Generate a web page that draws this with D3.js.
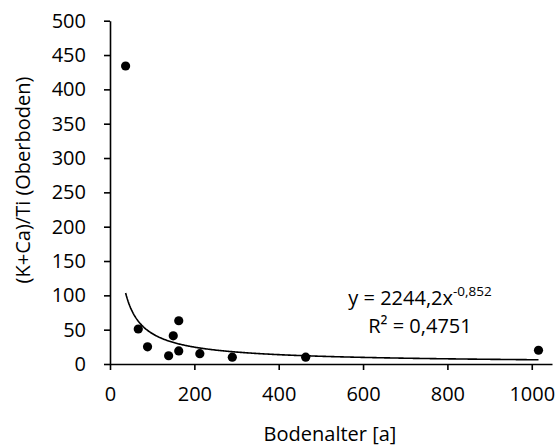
<!DOCTYPE html>
<html>
<head>
	<meta charset="utf-8">
	<title>Bodenalter</title>
	<script src="https://cdnjs.cloudflare.com/ajax/libs/d3/7.8.5/d3.min.js"></script>
	<style>
		body { margin: 0; background: #fff; }
		text { font-family: "Open Sans", "Noto Sans", sans-serif; fill: #000; }
	</style>
</head>
<body>
	<script>
		// soil age [a] and (K+Ca)/Ti ratio in the topsoil
		var ages   = [37, 67, 89, 139, 150, 163, 163, 213, 290, 464, 1016];
		var ratios = [434, 51, 25, 12, 41, 63, 19, 15, 10, 10, 20];

		var xTicks = [0, 200, 400, 600, 800, 1000];
		var yTicks = [0, 50, 100, 150, 200, 250, 300, 350, 400, 450, 500];

		// power trend line y = a * x^b
		var fitA = 2244.2;
		var fitB = -0.852;

		var width = 555, height = 448;

		var svg = d3.select('body').append('svg')
			.attr('width', width)
			.attr('height', height);

		var x = d3.scaleLinear().domain([0, 1048]).range([110, 552]);
		var y = d3.scaleLinear().domain([0, 500]).range([364, 20.7]);

		var xAxis = svg.append('g')
			.attr('transform', 'translate(0,' + y(0) + ')')
			.call(d3.axisBottom(x).tickValues(xTicks).tickFormat(d3.format('d'))
				.tickSize(6).tickPadding(17).tickSizeOuter(0));

		var yAxis = svg.append('g')
			.attr('transform', 'translate(' + x(0) + ',0)')
			.call(d3.axisLeft(y).tickValues(yTicks).tickSize(6).tickPadding(18).tickSizeOuter(0));

		[xAxis, yAxis].forEach(function (ax) {
			ax.selectAll('path, line').attr('stroke', '#000').attr('stroke-width', 1.6);
			ax.selectAll('text').style('font-size', '20px').attr('fill', '#000');
		});

		// trend line over the data range
		var ext = d3.extent(ages);
		var fitX = d3.range(ext[0], ext[1], 2).concat([ext[1]]);
		var line = d3.line()
			.x(function (d) { return x(d); })
			.y(function (d) { return y(fitA * Math.pow(d, fitB)); });

		svg.append('path')
			.datum(fitX)
			.attr('d', line)
			.attr('fill', 'none')
			.attr('stroke', '#000')
			.attr('stroke-width', 1.6);

		svg.selectAll('circle.pt')
			.data(ages)
			.enter()
			.append('circle')
			.attr('class', 'pt')
			.attr('cx', function (d) { return x(d); })
			.attr('cy', function (d, i) { return y(ratios[i]); })
			.attr('r', 4.6)
			.attr('fill', '#000');

		// equation label
		var eq = svg.append('text')
			.attr('x', 420)
			.attr('y', 305)
			.attr('text-anchor', 'middle')
			.style('font-size', '20px');
		eq.append('tspan').text('y = 2244,2x');
		eq.append('tspan')
			.attr('dy', -9)
			.style('font-size', '13.5px')
			.text('-0,852');

		svg.append('text')
			.attr('x', 420)
			.attr('y', 333)
			.attr('text-anchor', 'middle')
			.style('font-size', '20px')
			.text('R² = 0,4751');

		// axis titles
		svg.append('text')
			.attr('x', 330)
			.attr('y', 441)
			.attr('text-anchor', 'middle')
			.style('font-size', '20px')
			.text('Bodenalter [a]');

		svg.append('text')
			.attr('transform', 'translate(30,180) rotate(-90)')
			.attr('text-anchor', 'middle')
			.style('font-size', '20px')
			.text('(K+Ca)/Ti (Oberboden)');
	</script>
</body>
</html>
